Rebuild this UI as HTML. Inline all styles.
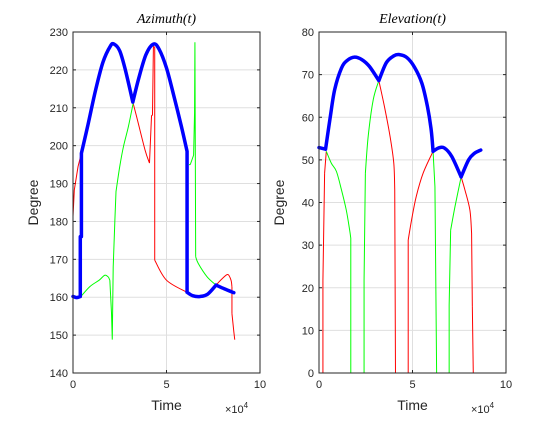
<!DOCTYPE html>
<html><head><meta charset="utf-8"><style>
body{margin:0;background:#fff;width:560px;height:420px;overflow:hidden}
svg{font-family:"Liberation Sans",sans-serif}
</style></head><body>
<svg id="c" width="560" height="420"></svg>
<script>
// Each series = list of segments; each segment = [time (x1e4), degree] points
const azBlue=[
 [[0,160.2],[0.2,159.9],[0.39,160.2]],
 [[0.39,160.2],[0.39,176]],[[0.39,176],[0.45,176]],[[0.45,176],[0.45,198]],
 [[0.45,198],[0.8,205.5],[1.2,214.5],[1.6,222],[2.0,226.3],[2.2,226.8],[2.5,225],[2.8,220],[3.2,211.5]],
 [[3.2,211.5],[3.5,217.5],[3.9,224],[4.3,226.8],[4.6,225.5],[5.0,220.5],[5.4,213],[5.8,205],[6.1,198.5]],
 [[6.1,198.5],[6.1,161.3]],
 [[6.1,161.3],[6.4,160.4],[6.8,160.2],[7.2,160.8],[7.65,163.2]],
 [[7.65,163.2],[8.1,162.2],[8.6,161.2]]];
const azRed=[
 [[0,160],[0,181.3]],[[0,181.3],[0.07,188.3]],[[0.07,188.3],[0.27,194.5]],[[0.27,194.5],[0.45,198]],
 [[3.2,211.5],[3.4,207.7],[3.85,198.9],[4.09,195.4]],
 [[4.09,195.4],[4.2,208]],[[4.2,208],[4.25,208]],[[4.25,208],[4.3,226.2]],[[4.3,226.2],[4.37,226]],[[4.37,226],[4.37,169.8]],
 [[4.37,169.8],[5.0,164.5],[6.1,161.3]],
 [[7.65,163.2],[8.0,165],[8.28,166],[8.45,164.5],[8.5,162.7]],
 [[8.5,162.7],[8.5,155.7]],[[8.5,155.7],[8.6,150.9]],[[8.6,150.9],[8.65,148.8]]];
const azGreen=[
 [[0.39,160],[0.9,162.8],[1.4,164.5],[1.7,165.8],[1.9,165.3]],
 [[1.9,165.3],[1.97,164.5]],[[1.97,164.5],[2.06,155.7]],[[2.06,155.7],[2.1,148.8]],[[2.1,148.8],[2.15,168]],[[2.15,168],[2.24,180.4]],[[2.24,180.4],[2.3,187.9]],
 [[2.3,187.9],[2.5,194.5],[2.7,199.8],[2.96,205],[3.23,211.5]],
 [[6.2,195],[6.27,195]],[[6.27,195],[6.45,197.5]],[[6.45,197.5],[6.5,208.6]],[[6.5,208.6],[6.52,227.3]],[[6.52,227.3],[6.56,170.7]],
 [[6.56,170.7],[6.7,168.9],[7.17,165.4],[7.65,163.2]]];
const elBlue=[
 [[0,52.9],[0.35,52.5]],
 [[0.35,52.5],[0.6,60],[0.84,66.5],[1.2,71.5],[1.5,73.3],[1.9,74.1],[2.3,73.5],[2.7,71.9],[3.2,68.6]],
 [[3.2,68.6],[3.6,72.8],[4.0,74.4],[4.3,74.7],[4.7,74],[5.1,71.8],[5.5,68],[5.8,62.5],[6.0,57],[6.1,52]],
 [[6.1,52],[6.4,52.8],[6.7,52.8],[7.1,50.8],[7.6,46]],
 [[7.6,46],[8.0,50],[8.3,51.5],[8.65,52.3]]];
const elRed=[
 [[0,0],[0.21,0]],[[0.21,0],[0.21,21.8]],[[0.21,21.8],[0.3,46.9]],[[0.3,46.9],[0.39,52]],
 [[3.2,68.6],[3.5,62.5],[3.8,55.5],[4.0,49.2],[4.05,43]],[[4.05,43],[4.09,0]],[[4.09,0],[4.77,0]],[[4.77,0],[4.77,31.2]],
 [[4.77,31.2],[4.95,35.9],[5.2,41.4],[5.57,46.9],[6.1,52]],
 [[7.6,46],[7.8,43],[8.07,38.2],[8.16,32.8]],[[8.16,32.8],[8.2,15.5]],[[8.2,15.5],[8.25,0]],[[8.25,0],[8.65,0]]];
const elGreen=[
 [[0.39,52],[0.66,49.2],[0.93,47.3],[1.2,43],[1.46,38.2],[1.64,33.5],[1.7,31.6]],[[1.7,31.6],[1.7,0]],[[1.7,0],[2.41,0]],[[2.41,0],[2.41,21.8]],[[2.41,21.8],[2.48,46.9]],
 [[2.48,46.9],[2.63,55.5],[2.9,64.1],[3.2,68.6]],
 [[6.1,52],[6.2,43.7]],[[6.2,43.7],[6.29,0]],[[6.29,0],[6.96,0]],[[6.96,0],[6.96,15.9]],[[6.96,15.9],[7.04,33.5]],
 [[7.04,33.5],[7.27,39],[7.6,46]]];
const xTicks=[0,5,10];
const azTicks=[140,150,160,170,180,190,200,210,220,230];
const elTicks=[0,10,20,30,40,50,60,70,80];
const NS="http://www.w3.org/2000/svg";
const svg=document.getElementById('c');
function mk(t,a,p){const e=document.createElementNS(NS,t);for(const k in a)e.setAttribute(k,a[k]);(p||svg).appendChild(e);return e;}
function pathD(pts){
  if(pts.length<3) return 'M'+pts.map(p=>p.join(',')).join('L');
  let d='M'+pts[0].join(',');
  for(let i=0;i<pts.length-1;i++){
    const p0=pts[i-1]||pts[i],p1=pts[i],p2=pts[i+1],p3=pts[i+2]||p2;
    const c1=[p1[0]+(p2[0]-p0[0])/6,p1[1]+(p2[1]-p0[1])/6],c2=[p2[0]-(p3[0]-p1[0])/6,p2[1]-(p3[1]-p1[1])/6];
    d+='C'+c1.join(',')+' '+c2.join(',')+' '+p2.join(',');
  }
  return d;
}
function panel(name,x0,x1,yMin,yMax,yTicks,title,series){
  const y0=32,y1=373;
  const sx=v=>x0+(v/10)*(x1-x0), sy=v=>y1-(v-yMin)/(yMax-yMin)*(y1-y0);
  const g=mk('g',{});
  
  
  mk('rect',{x:x0,y:y0,width:x1-x0,height:y1-y0,fill:'#fff'},g);
  xTicks.forEach(t=>{const X=sx(t);
    const l=mk('line',{x1:X,x2:X,y1:y0,y2:y1,stroke:'#dfdfdf','stroke-width':1},g);
    
    mk('line',{x1:X,x2:X,y1:y1,y2:y1-3,stroke:'#262626'},g);mk('line',{x1:X,x2:X,y1:y0,y2:y0+3,stroke:'#262626'},g);
    const tx=mk('text',{x:X,y:y1+15,'text-anchor':'middle','font-size':11,fill:'#262626'},g);tx.textContent=t;
    });
  yTicks.forEach(t=>{const Y=sy(t);
    const l=mk('line',{x1:x0,x2:x1,y1:Y,y2:Y,stroke:'#dfdfdf','stroke-width':1},g);
    
    mk('line',{x1:x0,x2:x0+3,y1:Y,y2:Y,stroke:'#262626'},g);mk('line',{x1:x1,x2:x1-3,y1:Y,y2:Y,stroke:'#262626'},g);
    const tx=mk('text',{x:x0-5,y:Y+4,'text-anchor':'end','font-size':11,fill:'#262626'},g);tx.textContent=t;
    });
  series.forEach(([segs,c,w,n])=>{
    const d=segs.map(s=>pathD(s.map(q=>[sx(q[0]),sy(q[1])]))).join(' ');
    const p=mk('path',{d:d,fill:'none',stroke:c,'stroke-width':w,'stroke-linejoin':'round','stroke-linecap':w>2?'round':'butt'},g);
    });
  mk('rect',{x:x0,y:y0,width:x1-x0,height:y1-y0,fill:'none',stroke:'#262626','stroke-width':1},g);
  const tt=mk('text',{x:(x0+x1)/2,y:23,'text-anchor':'middle','font-size':14,'font-style':'italic','font-family':'Liberation Serif,serif',fill:'#000'},g);tt.textContent=title;
  
  const xl=mk('text',{x:(x0+x1)/2,y:410,'text-anchor':'middle','font-size':14,fill:'#262626'},g);xl.textContent='Time';
  
  const ex=mk('text',{x:x1-35,y:413,'font-size':11,fill:'#262626'},g);ex.innerHTML='×10<tspan dy="-5" font-size="8">4</tspan>';
  
  const yl=mk('text',{transform:`translate(${x0-35},${(y0+y1)/2}) rotate(-90)`,'text-anchor':'middle','font-size':14,fill:'#262626'},g);yl.textContent='Degree';
  
}
panel('azimuth',73,260,140,230,azTicks,'Azimuth(t)',[[azRed,'#ff0000',1,'azimuth-red-line'],[azGreen,'#00ff00',1,'azimuth-green-line'],[azBlue,'#0000ff',3.5,'azimuth-blue-line']]);
panel('elevation',319,506,0,80,elTicks,'Elevation(t)',[[elRed,'#ff0000',1,'elevation-red-line'],[elGreen,'#00ff00',1,'elevation-green-line'],[elBlue,'#0000ff',3.5,'elevation-blue-line']]);
</script>
</body></html>
